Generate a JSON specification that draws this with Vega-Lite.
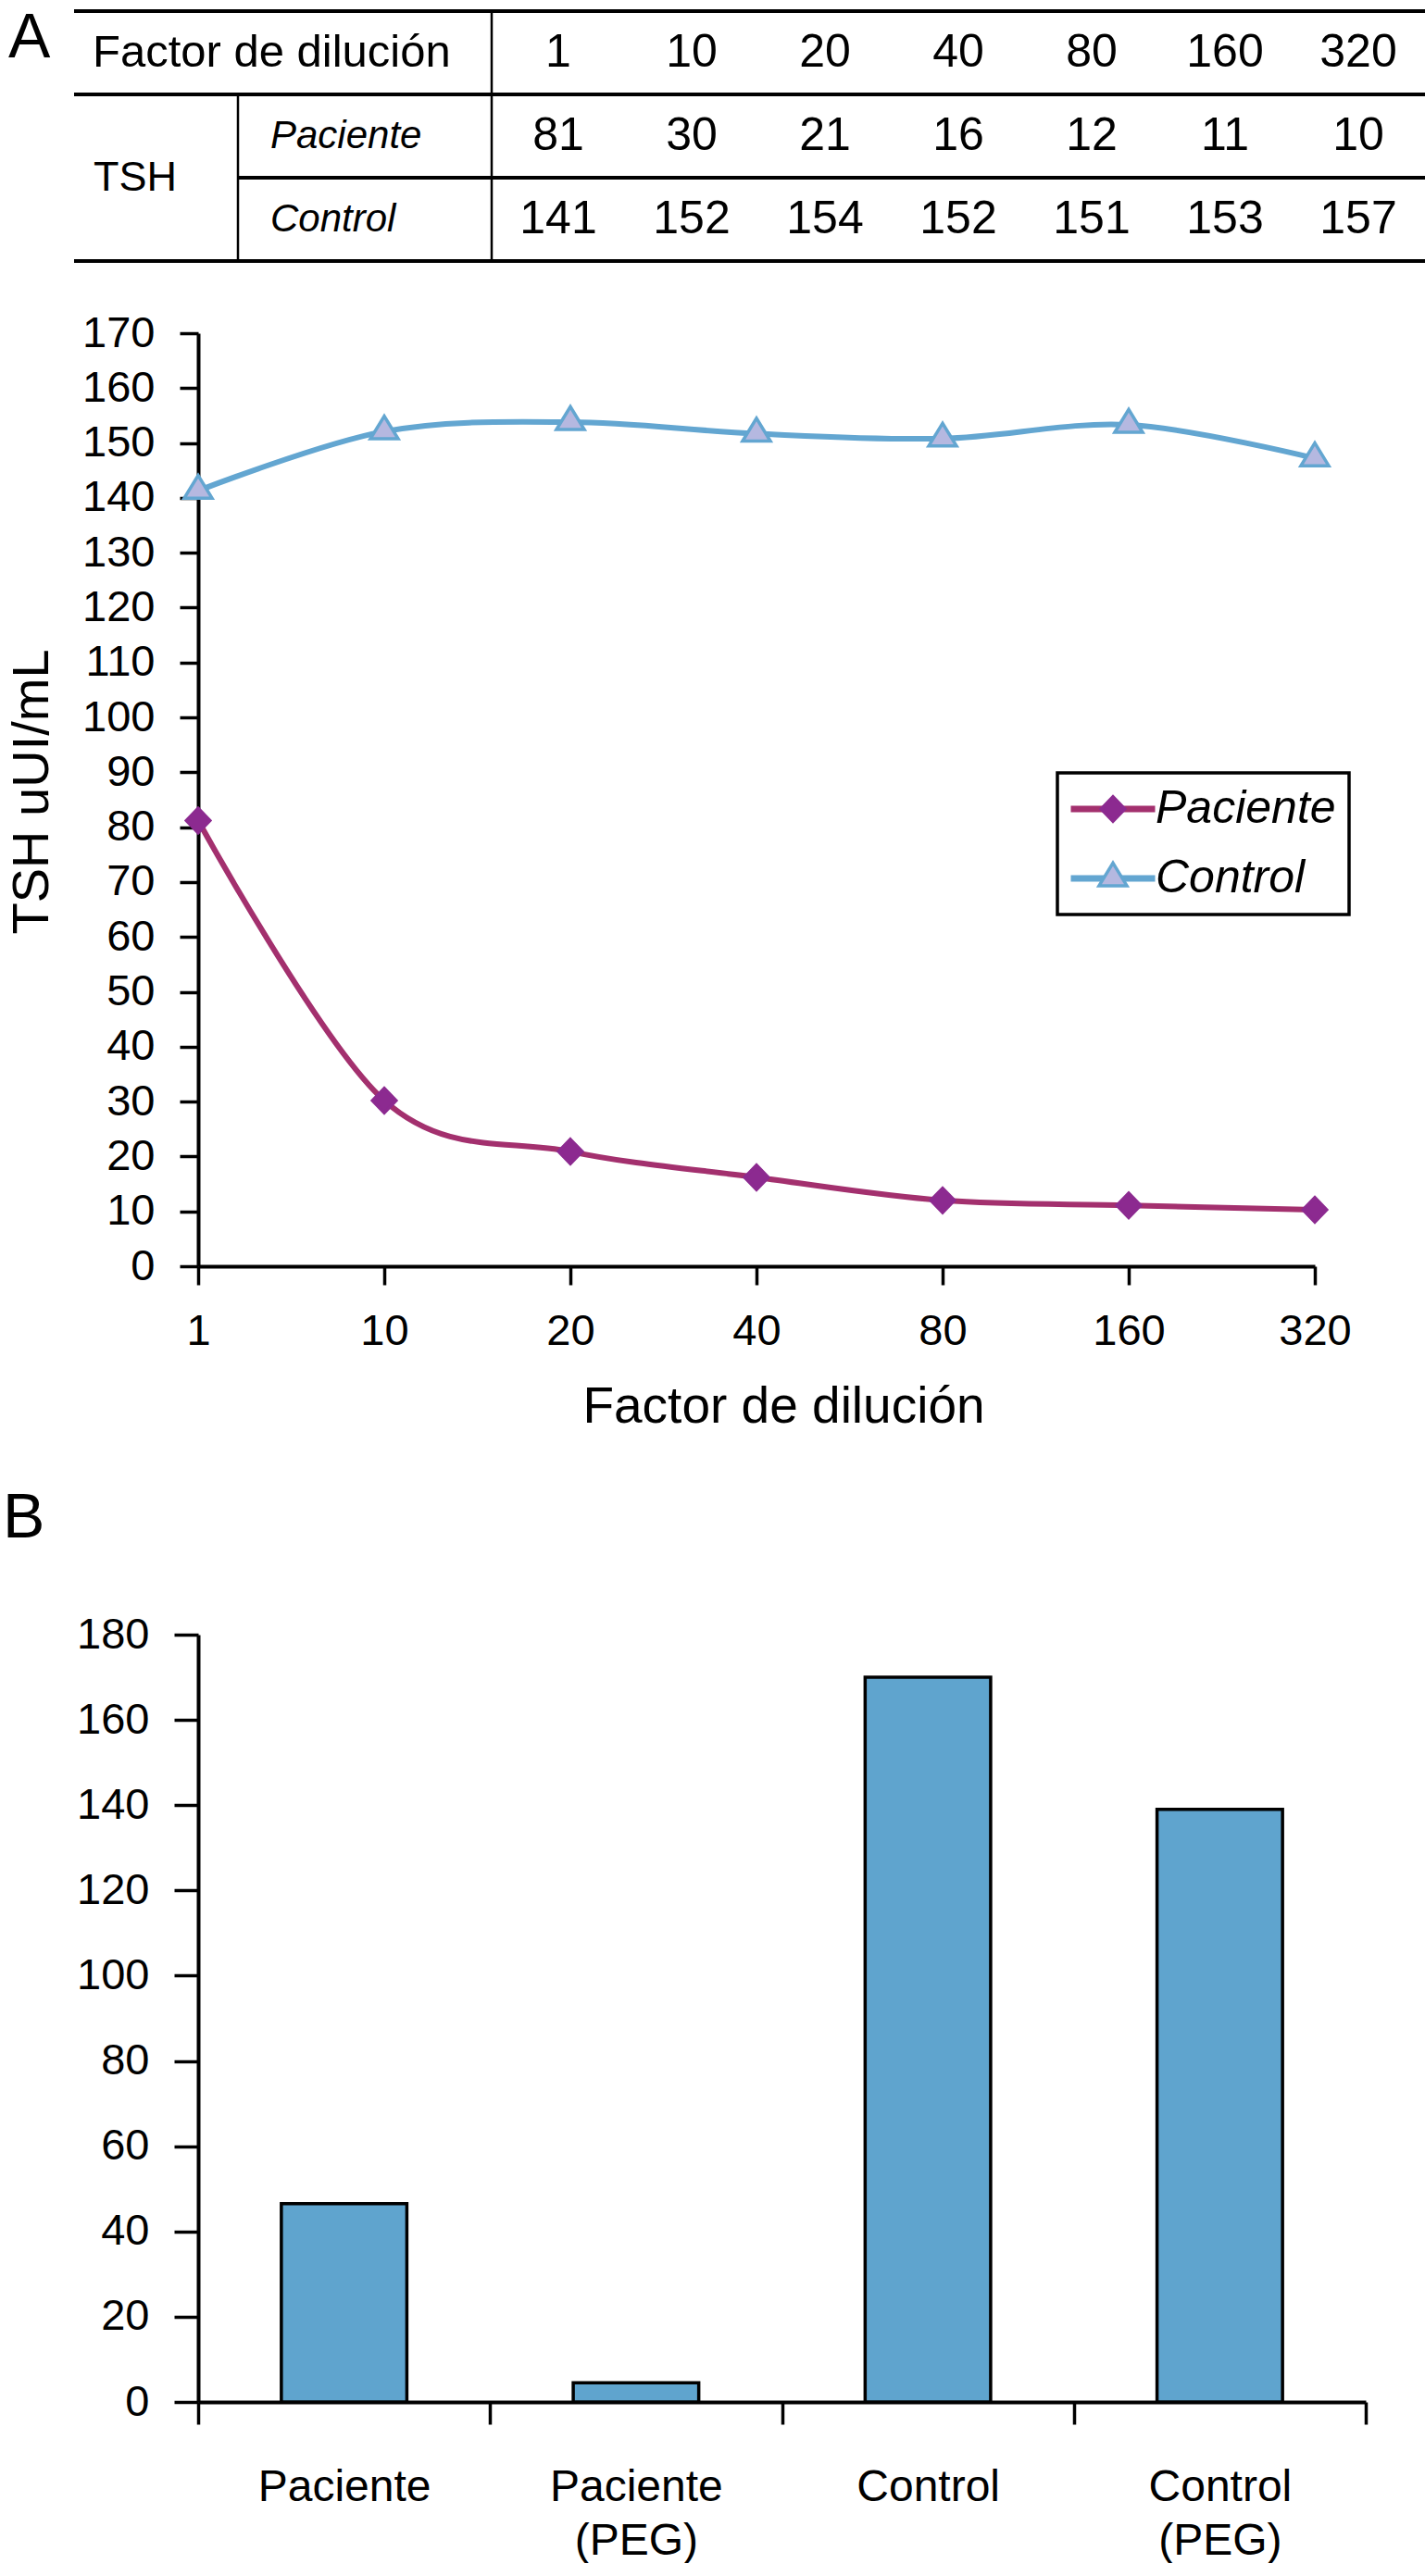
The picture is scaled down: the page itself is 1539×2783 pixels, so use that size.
{
  "$schema": "https://vega.github.io/schema/vega-lite/v6.json",
  "background": "white",
  "padding": {"left": 3, "top": 8, "right": 0, "bottom": 0},
  "spacing": 60,
  "config": {
    "view": {"stroke": null},
    "font": "Liberation Sans",
    "axis": {
      "domainColor": "black",
      "domainWidth": 4,
      "tickColor": "black",
      "tickWidth": 3.5,
      "labelColor": "black",
      "labelFont": "Liberation Sans",
      "labelFontSize": 47,
      "titleColor": "black",
      "titleFont": "Liberation Sans",
      "titleFontWeight": "normal",
      "grid": false,
      "labelAngle": 0
    },
    "text": {"font": "Liberation Sans", "color": "black"}
  },
  "datasets": {
    "tabla": [
      {"fila": "h", "col": "c0", "texto": "Factor de dilución"},
      {"fila": "p", "col": "c1", "texto": "Paciente"},
      {"fila": "c", "col": "c1", "texto": "Control"},
      {"fila": "h", "col": "1", "texto": "1"},
      {"fila": "h", "col": "10", "texto": "10"},
      {"fila": "h", "col": "20", "texto": "20"},
      {"fila": "h", "col": "40", "texto": "40"},
      {"fila": "h", "col": "80", "texto": "80"},
      {"fila": "h", "col": "160", "texto": "160"},
      {"fila": "h", "col": "320", "texto": "320"},
      {"fila": "p", "col": "1", "texto": "81"},
      {"fila": "p", "col": "10", "texto": "30"},
      {"fila": "p", "col": "20", "texto": "21"},
      {"fila": "p", "col": "40", "texto": "16"},
      {"fila": "p", "col": "80", "texto": "12"},
      {"fila": "p", "col": "160", "texto": "11"},
      {"fila": "p", "col": "320", "texto": "10"},
      {"fila": "c", "col": "1", "texto": "141"},
      {"fila": "c", "col": "10", "texto": "152"},
      {"fila": "c", "col": "20", "texto": "154"},
      {"fila": "c", "col": "40", "texto": "152"},
      {"fila": "c", "col": "80", "texto": "151"},
      {"fila": "c", "col": "160", "texto": "153"},
      {"fila": "c", "col": "320", "texto": "157"}
    ],
    "curvas": [
      {"factor": "1", "Paciente": 81.2, "Control": 141.3},
      {"factor": "10", "Paciente": 30.2, "Control": 152.1},
      {"factor": "20", "Paciente": 20.9, "Control": 153.8},
      {"factor": "40", "Paciente": 16.2, "Control": 151.7},
      {"factor": "80", "Paciente": 12.0, "Control": 150.8},
      {"factor": "160", "Paciente": 11.1, "Control": 153.3},
      {"factor": "320", "Paciente": 10.3, "Control": 147.2}
    ],
    "barras": [
      {"grupo": "Paciente", "tsh": 46.5},
      {"grupo": "Paciente (PEG)", "tsh": 4.5},
      {"grupo": "Control", "tsh": 170},
      {"grupo": "Control (PEG)", "tsh": 139}
    ]
  },
  "vconcat": [
    {
      "spacing": 52,
      "vconcat": [
        {
          "width": 1325,
          "height": 270,
          "layer": [
            {
              "data": {"values": [{}]},
              "mark": {"type": "rule", "color": "black", "strokeWidth": 4, "xOffset": -19},
              "encoding": {
                "x": {"datum": "c0", "bandPosition": 0, "scale": {"type": "band", "domain": ["c0", "c1", "c2", "1", "10", "20", "40", "80", "160", "320"], "range": [-115, 1325], "paddingInner": 0, "paddingOuter": 0}, "axis": null},
                "x2": {"value": "width"},
                "y": {"datum": "h", "bandPosition": 0, "scale": {"type": "band", "domain": ["h", "p", "c"], "paddingInner": 0, "paddingOuter": 0}, "axis": null}
              }
            },
            {
              "data": {"values": [{}]},
              "mark": {"type": "rule", "color": "black", "strokeWidth": 4, "xOffset": -19},
              "encoding": {
                "x": {"datum": "c0", "bandPosition": 0, "axis": null},
                "x2": {"value": "width"},
                "y": {"datum": "p", "bandPosition": 0, "axis": null}
              }
            },
            {
              "data": {"values": [{}]},
              "mark": {"type": "rule", "color": "black", "strokeWidth": 4, "xOffset": -19},
              "encoding": {
                "x": {"datum": "c0", "bandPosition": 0, "axis": null},
                "x2": {"value": "width"},
                "y": {"datum": "c", "bandPosition": 1, "axis": null}
              }
            },
            {
              "data": {"values": [{}]},
              "mark": {"type": "rule", "color": "black", "strokeWidth": 4, "xOffset": 14},
              "encoding": {
                "x": {"datum": "c1", "bandPosition": 0, "axis": null},
                "x2": {"value": "width"},
                "y": {"datum": "c", "bandPosition": 0, "axis": null}
              }
            },
            {
              "data": {"values": [{}]},
              "mark": {"type": "rule", "color": "black", "strokeWidth": 2.5},
              "encoding": {"x": {"datum": "1", "bandPosition": 0, "axis": null}}
            },
            {
              "data": {"values": [{}]},
              "mark": {"type": "rule", "color": "black", "strokeWidth": 2.5, "xOffset": 14},
              "encoding": {
                "x": {"datum": "c1", "bandPosition": 0, "axis": null},
                "y": {"datum": "p", "bandPosition": 0, "axis": null},
                "y2": {"value": "height"}
              }
            },
            {
              "data": {"name": "tabla"},
              "transform": [{"filter": "datum.col !== 'c0' && datum.col !== 'c1'"}],
              "mark": {"type": "text", "fontSize": 50, "align": "center", "baseline": "middle"},
              "encoding": {
                "x": {"field": "col", "type": "nominal", "axis": null},
                "y": {"field": "fila", "type": "nominal", "axis": null},
                "text": {"field": "texto"}
              }
            },
            {
              "data": {"name": "tabla"},
              "transform": [{"filter": "datum.col === 'c0'"}],
              "mark": {"type": "text", "fontSize": 49, "align": "left", "baseline": "middle", "dx": 1},
              "encoding": {
                "x": {"field": "col", "type": "nominal", "bandPosition": 0, "axis": null},
                "y": {"field": "fila", "type": "nominal", "axis": null},
                "text": {"field": "texto"}
              }
            },
            {
              "data": {"name": "tabla"},
              "transform": [{"filter": "datum.col === 'c1'"}],
              "mark": {"type": "text", "fontSize": 42, "fontStyle": "italic", "align": "left", "baseline": "middle", "dx": 49},
              "encoding": {
                "x": {"field": "col", "type": "nominal", "bandPosition": 0, "axis": null},
                "y": {"field": "fila", "type": "nominal", "axis": null},
                "text": {"field": "texto"}
              }
            },
            {
              "data": {"values": [{}]},
              "mark": {"type": "text", "fontSize": 45, "align": "left", "baseline": "middle", "dx": 2},
              "encoding": {
                "x": {"datum": "c0", "bandPosition": 0, "axis": null},
                "y": {"datum": "c", "bandPosition": 0, "axis": null},
                "text": {"value": "TSH"}
              }
            },
            {
              "data": {"values": [{}]},
              "mark": {"type": "text", "fontSize": 68, "align": "left", "baseline": "top", "dx": -90, "dy": -4},
              "encoding": {
                "x": {"datum": "c0", "bandPosition": 0, "axis": null},
                "y": {"datum": "h", "bandPosition": 0, "axis": null},
                "text": {"value": "A"}
              }
            }
          ]
        },
        {
          "width": 1206,
          "height": 1008,
          "data": {"name": "curvas"},
          "layer": [
            {
              "transform": [{"fold": ["Paciente", "Control"], "as": ["serie", "tsh"]}],
              "mark": {"type": "line", "interpolate": "cardinal", "strokeWidth": 6},
              "encoding": {
                "x": {
                  "field": "factor",
                  "type": "ordinal",
                  "sort": ["1", "10", "20", "40", "80", "160", "320"],
                  "scale": {"type": "point", "padding": 0},
                  "axis": {"title": "Factor de dilución", "tickSize": 20, "labelPadding": 27, "titleFontSize": 55, "titlePadding": 32, "titleX": 632}
                },
                "y": {
                  "field": "tsh",
                  "type": "quantitative",
                  "scale": {"domain": [0, 170], "nice": false},
                  "axis": {"title": "TSH uUI/mL", "values": [0, 10, 20, 30, 40, 50, 60, 70, 80, 90, 100, 110, 120, 130, 140, 150, 160, 170], "tickSize": 20, "labelPadding": 27, "titleFontSize": 56, "titlePadding": 25, "titleY": 495}
                },
                "color": {
                  "field": "serie",
                  "type": "nominal",
                  "sort": "descending",
                  "scale": {"range": ["#A3306E", "#63A6D1"]},
                  "legend": {
                    "orient": "none",
                    "legendX": 928,
                    "legendY": 823,
                    "title": null,
                    "symbolType": "M-2.275,0H2.275",
                    "symbolSize": 1600,
                    "symbolStrokeWidth": 7,
                    "symbolOffset": 21,
                    "labelFontSize": 50,
                    "labelFontStyle": "italic",
                    "labelFont": "Liberation Sans",
                    "labelColor": "black",
                    "labelOffset": 21,
                    "labelLimit": 0,
                    "rowPadding": 25,
                    "padding": 14,
                    "strokeColor": "black",
                    "fillColor": "white",
                    "encode": {"legend": {"update": {"strokeWidth": {"value": 3.5}}}}
                  }
                }
              }
            },
            {
              "transform": [{"fold": ["Paciente", "Control"], "as": ["curva", "tsh"]}],
              "mark": {"type": "point", "filled": true, "size": 2070, "strokeWidth": 3.5, "opacity": 1},
              "encoding": {
                "x": {"field": "factor", "type": "ordinal", "sort": ["1", "10", "20", "40", "80", "160", "320"]},
                "y": {"field": "tsh", "type": "quantitative"},
                "shape": {
                  "field": "curva",
                  "type": "nominal",
                  "sort": "descending",
                  "scale": {"range": ["M0,-0.58L0.56,0L0,0.58L-0.56,0Z", "M-0.66,0.35L0,-0.73L0.66,0.35Z"]},
                  "legend": {
                    "orient": "none",
                    "legendX": 928,
                    "legendY": 823,
                    "title": null,
                    "symbolSize": 2070,
                    "symbolStrokeWidth": 3.5,
                    "symbolOffset": 21,
                    "labelFontSize": 50,
                    "labelFontStyle": "italic",
                    "labelFont": "Liberation Sans",
                    "labelOpacity": 0,
                    "labelOffset": 21,
                    "labelLimit": 0,
                    "rowPadding": 25,
                    "padding": 14
                  }
                },
                "fill": {
                  "field": "curva",
                  "type": "nominal",
                  "sort": "descending",
                  "scale": {"range": ["#8C2A90", "#B5B8E0"]}
                },
                "stroke": {
                  "field": "curva",
                  "type": "nominal",
                  "sort": "descending",
                  "scale": {"range": ["#8C2A90", "#63A6D1"]}
                }
              }
            }
          ]
        }
      ]
    },
    {
      "width": 1261,
      "height": 829,
      "title": {
        "text": "B",
        "anchor": "start",
        "frame": "group",
        "dx": -211,
        "fontSize": 68,
        "fontWeight": "normal",
        "font": "Liberation Sans",
        "color": "black",
        "baseline": "top",
        "offset": 67
      },
      "data": {"name": "barras"},
      "mark": {"type": "bar", "width": {"band": 0.43}, "fill": "#5FA4CE", "stroke": "black", "strokeWidth": 3.5},
      "encoding": {
        "x": {
          "field": "grupo",
          "type": "nominal",
          "sort": null,
          "scale": {"paddingInner": 0, "paddingOuter": 0},
          "axis": {"title": null, "tickBand": "extent", "tickSize": 24, "labelPadding": 44, "labelExpr": "split(datum.label, ' ')", "labelLineHeight": 58, "labelFontSize": 48, "labelLimit": 400}
        },
        "y": {
          "field": "tsh",
          "type": "quantitative",
          "scale": {"domain": [0, 180], "nice": false},
          "axis": {"title": null, "values": [0, 20, 40, 60, 80, 100, 120, 140, 160, 180], "tickSize": 26, "labelPadding": 27}
        }
      }
    }
  ]
}
